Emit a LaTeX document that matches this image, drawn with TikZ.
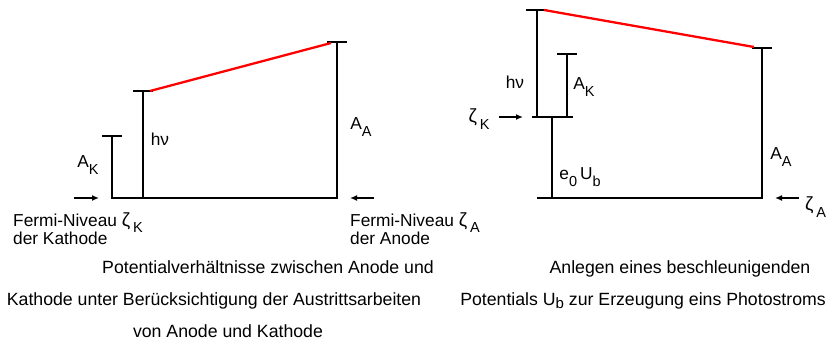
\documentclass[tikz,border=0pt]{standalone}
\usepackage{fontspec}
\setmainfont{Liberation Sans}
\usetikzlibrary{arrows.meta}
\newcommand\sbs[1]{\raisebox{-6.5pt}{\fontsize{14.5}{14.5}\selectfont #1}}
\newcommand\sbc[1]{\raisebox{-2.5pt}{\fontsize{15}{15}\selectfont #1}}
\newcommand\zet{{\fontsize{19}{19}\selectfont ζ}}
\tikzset{
  lev/.style={line width=2.5pt,black},
  tickline/.style={line width=2.5pt,black},
  redline/.style={line width=2.3pt,red},
  fermiarrow/.style={line width=2pt,-{Latex[length=7pt,width=6pt]}},
  lbl/.style={font=\fontsize{17.3}{17.3}\selectfont,inner sep=0pt},
  captext/.style={font=\fontsize{17.7}{17.7}\selectfont,inner sep=0pt,anchor=base}
}
\begin{document}
\begin{tikzpicture}[x=1pt,y=-1pt]
\useasboundingbox[fill=white] (0,0) rectangle (830,341);
% ---------- left diagram ----------
\coordinate (LB0) at (112,198);
\coordinate (LB1) at (337,198);
\coordinate (AKtop) at (112,136);
\coordinate (HVbot) at (143,198);
\coordinate (HVtop) at (143,91);
\coordinate (AAtop) at (337,42);
\draw[lev] (AKtop) -- (LB0) -- (LB1) -- (AAtop);
\draw[lev] (HVbot) -- (HVtop);
\draw[tickline] (102,136) -- (122,136);
\draw[tickline] (133,91) -- (153,91);
\draw[tickline] (327,42) -- (347,42);
\draw[redline] (150,91) -- (331,43);
\coordinate (LarS) at (74,198);
\coordinate (LarE) at (99,198);
\draw[fermiarrow] (LarS) -- (LarE);
\coordinate (RarS) at (374,198);
\coordinate (RarE) at (350,198);
\draw[fermiarrow] (RarS) -- (RarE);
\node[lbl] (lAK) at (88,165) {A\sbs{K}};
\node[lbl] (lhv) at (160,139) {hν};
\node[lbl] (lAA) at (361,127) {A\sbs{A}};
\node[lbl,anchor=base west] (fk1) at (13,226) {Fermi-Niveau \zet\,\sbs{K}};
\node[lbl,anchor=base west] (fk2) at (13,244) {der Kathode};
\node[lbl,anchor=base west] (fa1) at (350,226) {Fermi-Niveau \zet\,\sbs{A}};
\node[lbl,anchor=base west] (fa2) at (350,244) {der Anode};
\node[captext] (c1) at (268,273) {Potentialverhältnisse zwischen Anode und};
\node[captext] (c2) at (214,305) {Kathode unter Berücksichtigung der Austrittsarbeiten};
\node[captext] (c3) at (228,337.5) {von Anode und Kathode};
% ---------- right diagram ----------
\coordinate (RB0) at (537,198);
\coordinate (RB1) at (762,198);
\coordinate (EUbot) at (552,198);
\coordinate (EUtop) at (552,117);
\coordinate (ZKl) at (532,117);
\coordinate (ZKr) at (573,117);
\coordinate (rHVtop) at (537,10);
\coordinate (rHVbot) at (537,117);
\coordinate (rAKtop) at (567,54);
\coordinate (rAKbot) at (567,117);
\coordinate (rAAtop) at (762,48);
\draw[lev] (RB0) -- (RB1) -- (rAAtop);
\draw[lev] (EUbot) -- (EUtop);
\draw[lev] (ZKl) -- (ZKr);
\draw[lev] (rHVbot) -- (rHVtop);
\draw[lev] (rAKbot) -- (rAKtop);
\draw[tickline] (526,10) -- (547,10);
\draw[tickline] (557,54) -- (577,54);
\draw[tickline] (752,48) -- (772,48);
\draw[redline] (544,10) -- (754,47);
\coordinate (ZKarS) at (499,117);
\coordinate (ZKarE) at (523,117);
\draw[fermiarrow] (ZKarS) -- (ZKarE);
\coordinate (ZAarS) at (799,198);
\coordinate (ZAarE) at (775,198);
\draw[fermiarrow] (ZAarS) -- (ZAarE);
\node[lbl] (rhv) at (515,82) {hν};
\node[lbl] (rAK) at (584,87) {A\sbs{K}};
\node[lbl] (rZK) at (479,119) {\zet\,\sbs{K}};
\node[lbl] (rEU) at (580,177) {e\sbs{0}\,U\sbs{b}};
\node[lbl] (rAA) at (781,157) {A\sbs{A}};
\node[lbl,anchor=west] (rZA) at (805,207) {\zet\,\sbs{A}};
\node[captext] (d1) at (680,273) {Anlegen eines beschleunigenden};
\node[captext] (d2) at (643,305.5) {Potentials U\sbc{b} zur Erzeugung eins Photostroms};
\end{tikzpicture}
\end{document}
